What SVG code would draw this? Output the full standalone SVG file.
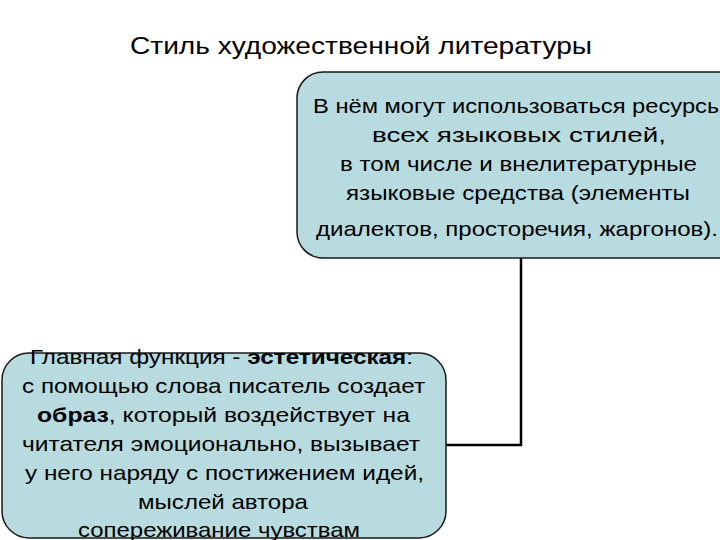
<svg xmlns="http://www.w3.org/2000/svg" width="720" height="540" viewBox="0 0 720 540">
<style>
.box{fill:#b7dbdf;stroke:#1a1a1a;stroke-width:1.5}
.t{font-family:"Liberation Sans",Arial,sans-serif;font-size:21px;fill:#000}
.title{font-family:"Liberation Sans",Arial,sans-serif;font-size:24px;fill:#000}
.b{font-weight:bold}
.conn{fill:none;stroke:#000;stroke-width:2.5}
</style>
<rect width="720" height="540" fill="#ffffff"/>
<text id="title" class="title" x="130" y="54" textLength="462" lengthAdjust="spacingAndGlyphs">Стиль художественной литературы</text>
<g id="connectors">
<path class="conn" d="M521,258 V445 H446"/>
</g>
<g id="node-resources">
<rect class="box" x="297" y="72" width="470" height="186" rx="26" ry="26"/>
<text class="t" x="313" y="113" textLength="411" lengthAdjust="spacingAndGlyphs">В нём могут использоваться ресурсы</text>
<text class="t" x="372" y="142" textLength="294" lengthAdjust="spacingAndGlyphs">всех языковых стилей,</text>
<text class="t" x="340" y="171" textLength="357" lengthAdjust="spacingAndGlyphs">в том числе и внелитературные</text>
<text class="t" x="346" y="200" textLength="344" lengthAdjust="spacingAndGlyphs">языковые средства (элементы</text>
<text class="t" x="316" y="236" textLength="402" lengthAdjust="spacingAndGlyphs">диалектов, просторечия, жаргонов).</text>
</g>
<g id="node-function">
<rect class="box" x="2" y="353" width="444" height="185" rx="27" ry="27"/>
<text class="t" x="30" y="364" textLength="383" lengthAdjust="spacingAndGlyphs">Главная функция -  <tspan class="b">эстетическая</tspan>:</text>
<text class="t" x="22" y="393" textLength="403" lengthAdjust="spacingAndGlyphs">с помощью слова писатель создает</text>
<text class="t" x="37" y="422" textLength="373" lengthAdjust="spacingAndGlyphs"><tspan class="b">образ</tspan>, который воздействует на</text>
<text class="t" x="22" y="451" textLength="398" lengthAdjust="spacingAndGlyphs">читателя эмоционально, вызывает</text>
<text class="t" x="25" y="480" textLength="399" lengthAdjust="spacingAndGlyphs">у него наряду с постижением идей,</text>
<text class="t" x="138" y="509" textLength="170" lengthAdjust="spacingAndGlyphs">мыслей автора</text>
<text class="t" x="78" y="537" textLength="282" lengthAdjust="spacingAndGlyphs">сопереживание чувствам</text>
</g>
</svg>
